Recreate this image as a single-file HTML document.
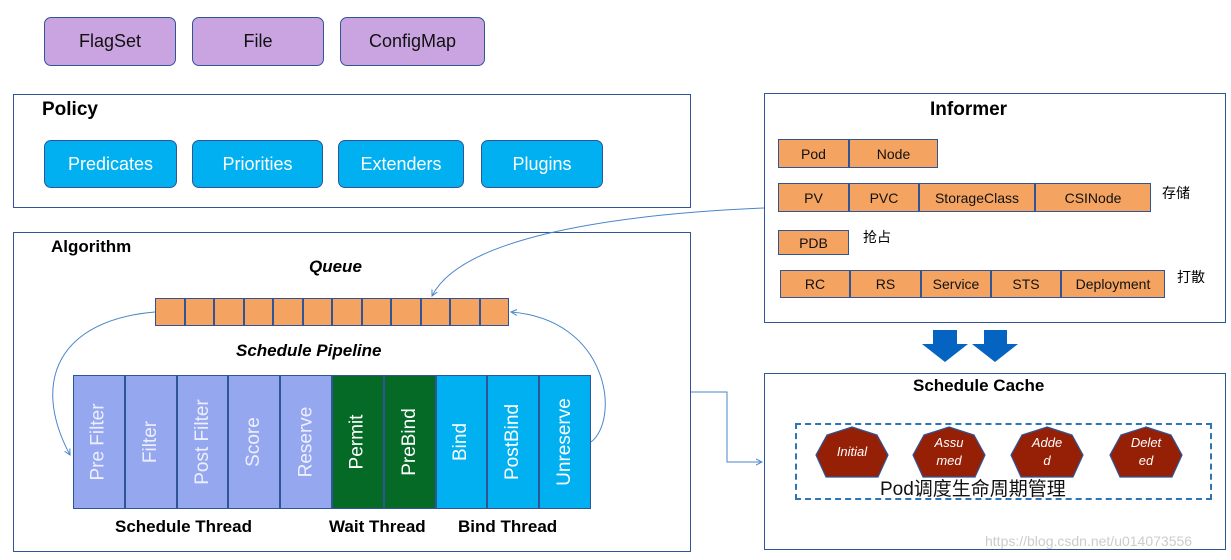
<!DOCTYPE html>
<html><head><meta charset="utf-8"><style>
body{margin:0;width:1231px;height:560px;background:#fff;position:relative;overflow:hidden;font-family:"Liberation Sans","Noto Sans CJK SC",sans-serif}
.a{position:absolute;box-sizing:border-box}
.pur{background:#c9a4e0;border:1.5px solid #2f5597;border-radius:7px;display:flex;align-items:center;justify-content:center;font-size:18px;color:#111}
.blu{background:#00b0f0;border:1.5px solid #2f5597;border-radius:7px;display:flex;align-items:center;justify-content:center;font-size:18px;color:#fff}
.frame{border:1.5px solid #2f5597;background:#fff}
.o{background:#f4a460;border:1.5px solid #2f5597;display:flex;align-items:center;justify-content:center;font-size:14px;color:#111;min-width:0}
.t{font-weight:bold;font-size:19px;color:#000}
.col{border:1px solid #2f5597;display:flex;align-items:center;justify-content:center;min-width:0;overflow:visible}
.col span{transform:rotate(-90deg);white-space:nowrap;font-size:19px;color:#fff}
.zh{font-size:14px;color:#000}
</style></head><body>
<div class="a pur" style="left:44px;top:17px;width:132px;height:49px">FlagSet</div>
<div class="a pur" style="left:192px;top:17px;width:132px;height:49px">File</div>
<div class="a pur" style="left:340px;top:17px;width:145px;height:49px">ConfigMap</div>

<div class="a frame" style="left:13px;top:94px;width:678px;height:114px"></div>
<div class="a t" style="left:42px;top:99px">Policy</div>
<div class="a blu" style="left:44px;top:140px;width:133px;height:48px">Predicates</div>
<div class="a blu" style="left:192px;top:140px;width:131px;height:48px">Priorities</div>
<div class="a blu" style="left:338px;top:140px;width:126px;height:48px">Extenders</div>
<div class="a blu" style="left:481px;top:140px;width:122px;height:48px">Plugins</div>

<div class="a frame" style="left:13px;top:232px;width:678px;height:320px"></div>
<div class="a t" style="left:51px;top:237px;font-size:17px">Algorithm</div>
<div class="a" style="left:309px;top:257px;font-weight:bold;font-style:italic;font-size:17px">Queue</div>
<div class="a" style="left:236px;top:341px;font-weight:bold;font-style:italic;font-size:17px">Schedule Pipeline</div>

<div class="a" style="left:155px;top:298px;width:354px;height:28px;display:grid;grid-template-columns:repeat(12,1fr)">
<div class="o"></div><div class="o"></div><div class="o"></div><div class="o"></div><div class="o"></div><div class="o"></div><div class="o"></div><div class="o"></div><div class="o"></div><div class="o"></div><div class="o"></div><div class="o"></div>
</div>

<div class="a" style="left:73px;top:375px;width:518px;height:134px;display:grid;grid-template-columns:repeat(10,1fr)">
<div class="col" style="background:#95a8ef"><span style="color:#eef">Pre Filter</span></div>
<div class="col" style="background:#95a8ef"><span style="color:#eef">Filter</span></div>
<div class="col" style="background:#95a8ef"><span style="color:#eef">Post Filter</span></div>
<div class="col" style="background:#95a8ef"><span style="color:#eef">Score</span></div>
<div class="col" style="background:#95a8ef"><span style="color:#eef">Reserve</span></div>
<div class="col" style="background:#046a26"><span>Permit</span></div>
<div class="col" style="background:#046a26"><span>PreBind</span></div>
<div class="col" style="background:#00b0f0"><span>Bind</span></div>
<div class="col" style="background:#00b0f0"><span>PostBind</span></div>
<div class="col" style="background:#00b0f0"><span>Unreserve</span></div>
</div>
<div class="a" style="left:115px;top:517px;font-weight:bold;font-size:17px">Schedule Thread</div>
<div class="a" style="left:329px;top:517px;font-weight:bold;font-size:17px">Wait Thread</div>
<div class="a" style="left:458px;top:517px;font-weight:bold;font-size:17px">Bind Thread</div>

<div class="a frame" style="left:764px;top:93px;width:462px;height:230px"></div>
<div class="a t" style="left:930px;top:99px">Informer</div>
<div class="a o" style="left:778px;top:139px;width:71px;height:29px">Pod</div>
<div class="a o" style="left:849px;top:139px;width:89px;height:29px">Node</div>
<div class="a o" style="left:778px;top:183px;width:71px;height:29px">PV</div>
<div class="a o" style="left:849px;top:183px;width:70px;height:29px">PVC</div>
<div class="a o" style="left:919px;top:183px;width:116px;height:29px">StorageClass</div>
<div class="a o" style="left:1035px;top:183px;width:116px;height:29px">CSINode</div>
<div class="a zh" style="left:1162px;top:183px">存储</div>
<div class="a o" style="left:778px;top:230px;width:71px;height:25px">PDB</div>
<div class="a zh" style="left:863px;top:227px">抢占</div>
<div class="a o" style="left:780px;top:270px;width:70px;height:28px">RC</div>
<div class="a o" style="left:850px;top:270px;width:71px;height:28px">RS</div>
<div class="a o" style="left:921px;top:270px;width:70px;height:28px">Service</div>
<div class="a o" style="left:991px;top:270px;width:70px;height:28px">STS</div>
<div class="a o" style="left:1061px;top:270px;width:104px;height:28px">Deployment</div>
<div class="a zh" style="left:1177px;top:267px">打散</div>

<div class="a frame" style="left:764px;top:373px;width:462px;height:177px"></div>
<div class="a t" style="left:913px;top:376px;font-size:17px">Schedule Cache</div>
<div class="a" style="left:795px;top:423px;width:417px;height:77px;border:2px dashed #2e75b6"></div>
<div class="a" style="left:880px;top:474px;font-size:19px;color:#111">Pod调度生命周期管理</div>

<svg class="a" style="left:0;top:0" width="1231" height="560">
<defs><marker id="m" markerWidth="8" markerHeight="8" refX="6" refY="4" orient="auto"><path d="M0,1 L6,4 L0,7" fill="none" stroke="#4a86c8" stroke-width="1"/></marker></defs>
<g fill="none" stroke="#4a86c8" stroke-width="1">
<path d="M764,208 C600,215 460,240 432,296" marker-end="url(#m)"/>
<path d="M155,312 C60,320 30,380 70,455" marker-end="url(#m)"/>
<path d="M591,442 C620,420 610,320 511,312" marker-end="url(#m)"/>
<path d="M691,392 L727,392 L727,462 L762,462" marker-end="url(#m)"/>
</g>
<g fill="#0563c1">
<polygon points="933,330 957,330 957,344 968,344 945,362 922,344 933,344"/>
<polygon points="984,330 1007,330 1007,344 1018,344 995,362 972,344 984,344"/>
</g>
<g fill="#962006" stroke="#2f5597" stroke-width="1.2">
<polygon points="852,427 877,435 888,455 878,477 826,477 816,455 827,435"/>
<polygon points="949,427 974,435 985,455 975,477 923,477 913,455 924,435"/>
<polygon points="1047,427 1072,435 1083,455 1073,477 1021,477 1011,455 1022,435"/>
<polygon points="1146,427 1171,435 1182,455 1172,477 1120,477 1110,455 1121,435"/>
</g>
<g fill="#fff" font-family="Liberation Sans" font-style="italic" font-size="13" text-anchor="middle">
<text x="852" y="456">Initial</text>
<text x="949" y="447">Assu</text><text x="949" y="465">med</text>
<text x="1047" y="447">Adde</text><text x="1047" y="465">d</text>
<text x="1146" y="447">Delet</text><text x="1146" y="465">ed</text>
</g>
<text x="985" y="546" font-family="Liberation Sans" font-size="14" fill="#ccc">https://blog.csdn.net/u014073556</text>
</svg>
</body></html>
